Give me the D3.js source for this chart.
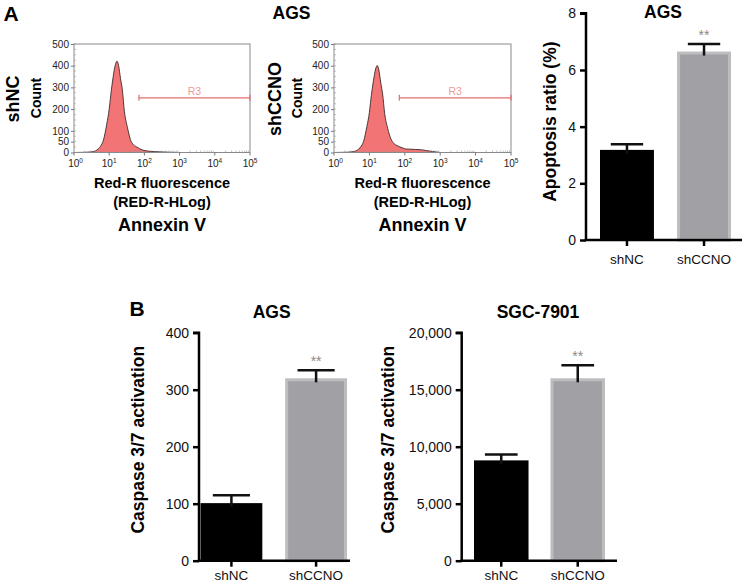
<!DOCTYPE html>
<html>
<head>
<meta charset="utf-8">
<script src="https://cdn.jsdelivr.net/npm/d3@7"></script>
<style>
  body { margin: 0; background: #fff; }
  svg { display: block; font-family: "Liberation Sans", Arial, Helvetica, sans-serif; }
</style>
</head>
<body>
<svg id="chart" width="742" height="585"></svg>
<script>
// ---------------- DATA ----------------
const groups = ["shNC", "shCCNO"];

// Flow cytometry histograms (fluorescence value, count)
const flowX_shNC   = [1, 2, 3.2, 4.5, 5.6, 6.8, 8.5, 10, 11, 13, 15, 16.6, 18.5, 21, 23.6, 27, 33, 40, 49, 60, 72, 90, 120, 200, 400, 700, 1000];
const flowY_shNC   = [0, 1, 3, 12, 28, 55, 130, 200, 260, 350, 405, 421, 400, 340, 290, 190, 115, 60, 35, 26, 18, 11, 7, 4, 2, 0.5, 0];
const flowX_shCCNO = [1, 2, 3.2, 4.5, 5.6, 6.8, 8.5, 10, 11, 13, 15, 16.6, 18.5, 21, 23.6, 27, 33, 40, 49, 60, 72, 90, 110, 150, 200, 280, 400, 600, 800, 1000];
const flowY_shCCNO = [0, 1, 3, 10, 25, 50, 120, 185, 245, 330, 385, 401, 380, 320, 270, 180, 110, 65, 42, 32, 26, 20, 16, 15, 14, 13, 9, 5, 2, 0];
const flowYTicks = [0, 50, 100, 200, 300, 400, 500];
const flowXTicks = [1, 10, 100, 1000, 10000, 100000];
const gateR3 = [70, 100000];
const gateR3Level = 252;

// Apoptosis ratio (%)
const apoptosisMean = [3.18, 6.65];
const apoptosisErr  = [0.20, 0.27];
const apoptosisTicks = [0, 2, 4, 6, 8];

// Caspase 3/7 activation
const caspAGSMean = [101, 320];
const caspAGSErr  = [14, 14];
const caspAGSTicks = [0, 100, 200, 300, 400];
const caspSGCMean = [8800, 16000];
const caspSGCErr  = [520, 1150];
const caspSGCTicks = [0, 5000, 10000, 15000, 20000];

// ---------------- DRAW ----------------
const svg = d3.select("#chart");
const FONT = '"Liberation Sans", Arial, Helvetica, sans-serif';

function text(x, y, s, opts = {}) {
  const t = svg.append("text")
    .attr("x", x).attr("y", y)
    .attr("text-anchor", opts.anchor || "middle")
    .attr("dominant-baseline", "central")
    .attr("font-size", opts.size || 14)
    .attr("font-weight", opts.bold ? "bold" : "normal")
    .attr("fill", opts.fill || "#000")
    .text(s);
  if (opts.rotate) t.attr("transform", `rotate(-90 ${x} ${y})`);
  return t;
}

// Panel letters
text(11, 13, "A", { size: 21, bold: true });
text(137, 308, "B", { size: 21, bold: true });
text(291.5, 13, "AGS", { size: 17.5, bold: true });

// ---- Flow histograms ----
function flowPanel(cfg) {
  const x = d3.scaleLog().domain([1, 100000]).range([cfg.left, cfg.right]);
  const y = d3.scaleLinear().domain([0, 500]).range([cfg.bottom, cfg.top]);
  const g = svg.append("g");

  const pts = cfg.xs.map((v, i) => [v, cfg.ys[i]]);
  const area = d3.area()
    .x(d => x(d[0])).y0(y(0)).y1(d => y(d[1]))
    .curve(d3.curveMonotoneX);
  const line = d3.line()
    .x(d => x(d[0])).y(d => y(d[1]))
    .curve(d3.curveMonotoneX);
  g.append("path").datum(pts).attr("d", area).attr("fill", "#f27474");
  g.append("path").datum(pts).attr("d", line).attr("fill", "none")
    .attr("stroke", "#3a2a2a").attr("stroke-width", 0.9);

  // frame
  g.append("rect").attr("x", cfg.left).attr("y", cfg.top)
    .attr("width", cfg.right - cfg.left).attr("height", cfg.bottom - cfg.top)
    .attr("fill", "none").attr("stroke", "#8a8a8a").attr("stroke-width", 1);

  // y ticks
  const yAxis = d3.axisLeft(y).tickValues(flowYTicks).tickSize(3).tickPadding(2);
  const ya = g.append("g").attr("transform", `translate(${cfg.left},0)`).call(yAxis);
  ya.select(".domain").remove();
  ya.selectAll("line").attr("stroke", "#777");
  ya.selectAll("text").attr("font-size", 10).attr("font-family", FONT).attr("fill", "#222");
  // minor y ticks
  g.selectAll(".ymin").data(d3.range(0, 501, 25)).enter().append("line")
    .attr("x1", cfg.left).attr("x2", cfg.left + 2)
    .attr("y1", d => y(d)).attr("y2", d => y(d)).attr("stroke", "#999").attr("stroke-width", 0.6);

  // x ticks (major)
  g.selectAll(".xmaj").data(flowXTicks).enter().append("line")
    .attr("x1", d => x(d)).attr("x2", d => x(d))
    .attr("y1", cfg.bottom).attr("y2", cfg.bottom + 3).attr("stroke", "#777");
  // minor log ticks
  const minors = [];
  for (let e = 0; e < 5; e++) for (let m = 2; m <= 9; m++) minors.push(m * Math.pow(10, e));
  g.selectAll(".xmin").data(minors).enter().append("line")
    .attr("x1", d => x(d)).attr("x2", d => x(d))
    .attr("y1", cfg.bottom).attr("y2", cfg.bottom - 2).attr("stroke", "#999").attr("stroke-width", 0.6);
  // x tick labels 10^n
  flowXTicks.forEach((v, i) => {
    const t = g.append("text").attr("x", x(v) + (i === 0 ? 1.5 : 0)).attr("y", cfg.bottom + 14)
      .attr("text-anchor", "middle").attr("font-size", 10).attr("fill", "#222");
    t.append("tspan").text("10");
    t.append("tspan").attr("font-size", 6.5).attr("dy", -4).text(String(i));
  });

  // R3 gate
  const gy = y(gateR3Level);
  g.append("line").attr("x1", x(gateR3[0])).attr("x2", x(gateR3[1]))
    .attr("y1", gy).attr("y2", gy).attr("stroke", "#e06e6e").attr("stroke-width", 1.2);
  gateR3.forEach(v => g.append("line").attr("x1", x(v)).attr("x2", x(v))
    .attr("y1", gy - 3).attr("y2", gy + 3).attr("stroke", "#e06e6e").attr("stroke-width", 1.2));
  text((x(gateR3[0]) + x(gateR3[1])) / 2, gy - 7, "R3", { size: 10.5, fill: "#ee9a9a" });

  // labels
  const cx = (cfg.left + cfg.right) / 2;
  text(cx, 183, "Red-R fluorescence", { size: 14.5, bold: true });
  text(cx, 202, "(RED-R-HLog)", { size: 14.5, bold: true });
  text(cx, 225, "Annexin V", { size: 18, bold: true });
  text(cfg.countX, 98, "Count", { size: 14, bold: true, rotate: true });
  text(cfg.groupX, 99, cfg.group, { size: 18, bold: true, rotate: true });
}

flowPanel({ left: 74, right: 250, top: 44, bottom: 152.5, xs: flowX_shNC, ys: flowY_shNC,
  countX: 36, groupX: 13, group: groups[0] });
flowPanel({ left: 334, right: 511, top: 44, bottom: 152.5, xs: flowX_shCCNO, ys: flowY_shCCNO,
  countX: 297, groupX: 275, group: groups[1] });

// ---- Bar charts ----
function barPanel(cfg) {
  const x = d3.scaleBand().domain(groups).range(cfg.barRange).paddingInner(cfg.padInner).paddingOuter(0);
  const y = d3.scaleLinear().domain([0, cfg.ticks[cfg.ticks.length - 1]]).range([cfg.bottom, cfg.top]);
  const g = svg.append("g");
  const bw = x.bandwidth();

  // bars
  groups.forEach((grp, i) => {
    const x0 = x(grp), yTop = y(cfg.mean[i]);
    if (i === 0) {
      g.append("rect").attr("x", x0).attr("y", yTop).attr("width", bw).attr("height", y(0) - yTop)
        .attr("fill", "#000");
    } else {
      g.append("rect").attr("x", x0 + 1.5).attr("y", yTop + 1.5).attr("width", bw - 3).attr("height", y(0) - yTop - 1.5)
        .attr("fill", "#a1a1a5").attr("stroke", "#bdbdc0").attr("stroke-width", 3);
    }
    // error bar
    const cxm = x0 + bw / 2, yErr = y(cfg.mean[i] + cfg.err[i]);
    const capHalf = bw * 0.3;
    g.append("line").attr("x1", cxm).attr("x2", cxm).attr("y1", yTop + 4).attr("y2", yErr)
      .attr("stroke", "#111").attr("stroke-width", 2.5);
    g.append("line").attr("x1", cxm - capHalf).attr("x2", cxm + capHalf).attr("y1", yErr).attr("y2", yErr)
      .attr("stroke", "#111").attr("stroke-width", 2.5);
    if (i === 1) text(cxm, yErr - 9, "**", { size: 14, fill: "#8a8a8a" });
  });

  // y axis
  const yAxis = d3.axisLeft(y).tickValues(cfg.ticks).tickSize(6).tickPadding(4)
    .tickFormat(cfg.fmt || d3.format("d"));
  const ya = g.append("g").attr("transform", `translate(${cfg.axisX},0)`).call(yAxis);
  ya.select(".domain").attr("stroke-width", 2.5).attr("d", `M-6,${y(cfg.ticks[cfg.ticks.length-1])}H0V${cfg.bottom}`);
  ya.selectAll(".tick line").attr("stroke-width", 2.5);
  ya.selectAll("text").attr("font-size", 14).attr("font-family", FONT).attr("fill", "#111");

  // x axis
  g.append("line").attr("x1", cfg.axisX - 1.25).attr("x2", cfg.axisRight)
    .attr("y1", cfg.bottom).attr("y2", cfg.bottom).attr("stroke", "#000").attr("stroke-width", 2.5);
  groups.forEach(grp => {
    const cxm = x(grp) + bw / 2;
    g.append("line").attr("x1", cxm).attr("x2", cxm).attr("y1", cfg.bottom).attr("y2", cfg.bottom + 6)
      .attr("stroke", "#000").attr("stroke-width", 2.5);
    text(cxm, cfg.bottom + cfg.labelDy, grp, { size: 13.5, fill: "#111" });
  });

  text(cfg.titleX, cfg.titleY, cfg.title, { size: 17.5, bold: true });
  text(cfg.yTitleX, (cfg.top + cfg.bottom) / 2 + cfg.yTitleDy, cfg.yTitle, { size: 17.5, bold: true, rotate: true });
}

barPanel({ barRange: [600, 731], padInner: 0.3, top: 13.3, bottom: 240, axisX: 586, axisRight: 742,
  ticks: apoptosisTicks, mean: apoptosisMean, err: apoptosisErr, labelDy: 19,
  title: "AGS", titleX: 663, titleY: 12, yTitle: "Apoptosis ratio (%)", yTitleX: 550, yTitleDy: -5 });

barPanel({ barRange: [200.5, 347], padInner: 0.27, top: 332.7, bottom: 560.7, axisX: 199, axisRight: 350,
  ticks: caspAGSTicks, mean: caspAGSMean, err: caspAGSErr, labelDy: 15,
  title: "AGS", titleX: 271.7, titleY: 311.7, yTitle: "Caspase 3/7 activation", yTitleX: 138, yTitleDy: -7 });

barPanel({ barRange: [474, 605], padInner: 0.287, top: 332.7, bottom: 560.7, axisX: 461.7, axisRight: 617,
  ticks: caspSGCTicks, mean: caspSGCMean, err: caspSGCErr, fmt: d3.format(","), labelDy: 15,
  title: "SGC-7901", titleX: 538, titleY: 311.7, yTitle: "Caspase 3/7 activation", yTitleX: 388, yTitleDy: -7 });
</script>
</body>
</html>
